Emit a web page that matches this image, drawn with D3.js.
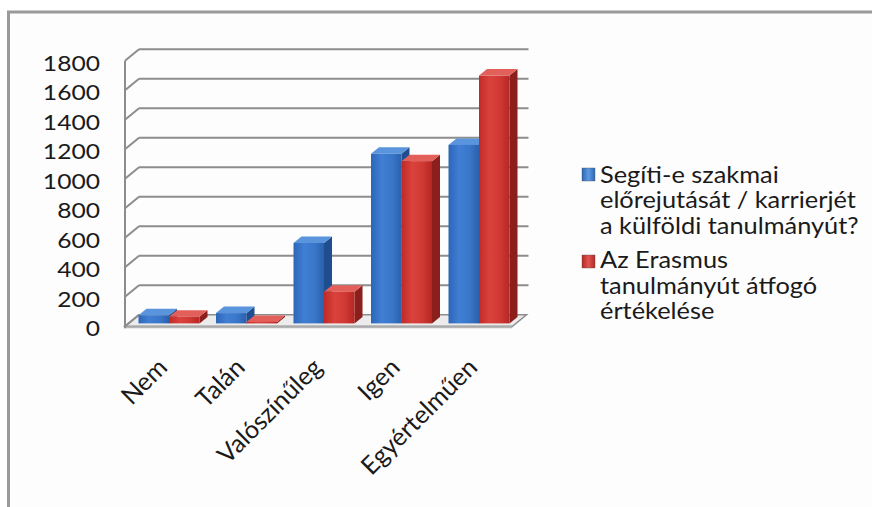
<!DOCTYPE html>
<html><head><meta charset="utf-8">
<script src="https://cdn.jsdelivr.net/npm/d3@7"></script>
<style>html,body{margin:0;padding:0;background:#fff;}svg{display:block;}</style>
</head><body>
<svg id="chart" width="872" height="507"></svg>
<script>
const categories = ["Nem", "Talán", "Valószínűleg", "Igen", "Egyértelműen"];
const seriesKeys = ["s1", "s2"];
const series1 = [55, 70, 545, 1150, 1210];
const series2 = [45, 10, 215, 1100, 1680];
const yTicks = [0, 200, 400, 600, 800, 1000, 1200, 1400, 1600, 1800];
const legend1 = ["Segíti-e szakmai", "előrejutását / karrierjét", "a külföldi tanulmányút?"];
const legend2 = ["Az Erasmus", "tanulmányút átfogó", "értékelése"];

const svg = d3.select("#chart");
const font = "Lato, 'Open Sans', sans-serif";
const SX = 1.1; // horizontal text stretch seen in the reference

// frame
svg.append("rect").attr("x", 9).attr("y", 13).attr("width", 870).attr("height", 500).attr("fill", "#fdfdfd");
svg.append("path").attr("d", "M8.5,507 V12 H872").attr("fill", "none").attr("stroke", "#9a9a9a").attr("stroke-width", 3);

const defs = svg.append("defs");
function grad(id, stops) {
  const g = defs.append("linearGradient").attr("id", id).attr("x1", "0").attr("x2", "1").attr("y1", "0").attr("y2", "0");
  stops.forEach(([o, c]) => g.append("stop").attr("offset", o).attr("stop-color", c));
}
grad("gBlue", [[0, "#2c66b8"], [0.35, "#407fd4"], [0.7, "#3976c9"], [1, "#2b60ab"]]);
grad("gRed", [[0, "#c02a26"], [0.35, "#da423c"], [0.7, "#d03833"], [1, "#b52723"]]);
grad("gBlueMk", [[0, "#2c66b5"], [0.5, "#5d9ae2"], [1, "#2c66b5"]]);
grad("gRedMk", [[0, "#b52723"], [0.5, "#e0554f"], [1, "#b52723"]]);

const colors = {
  s1: { front: "url(#gBlue)", top: "#5a94dd", side: "#1f4e90" },
  s2: { front: "url(#gRed)", top: "#e3605a", side: "#8c1f1c" }
};

// scales (front plane)
const x = d3.scaleBand().domain(categories).range([125, 512.5]).padding(0);
const xs = d3.scaleBand().domain(seriesKeys).range([10, 71]).padding(0);
const y = d3.scaleLinear().domain([0, 1800]).range([326.3, 60.8]);
const DX = 14, DY = -11.5;           // depth of walls
const fdx = 3.5, fdy = -2.9;         // bars front plane offset
const bdx = 8, bdy = -6.5;           // bar depth

const gridColor = "#8d8d8d";
const g = svg.append("g");

// floor
const x0 = x.range()[0], x1 = x.range()[1];
g.append("path")
  .attr("d", `M${x0},${y(0)} L${x1},${y(0)} L${x1 + DX},${y(0) + DY} L${x0 + DX},${y(0) + DY} Z`)
  .attr("fill", "#ececec").attr("stroke", gridColor).attr("stroke-width", 1.5);
g.append("path")
  .attr("d", `M${x0},${y(0)} L${x1},${y(0)} L${x1},${y(0) + 2} L${x0},${y(0) + 2} Z`)
  .attr("fill", "#b5b5b5");

// back wall gridlines
g.selectAll(".grid").data(yTicks.slice(1)).join("line")
  .attr("x1", x0 + DX).attr("x2", x1 + DX + 2)
  .attr("y1", d => y(d) + DY).attr("y2", d => y(d) + DY)
  .attr("stroke", gridColor).attr("stroke-width", 2);
// left wall diagonals
g.selectAll(".diag").data(yTicks).join("line")
  .attr("x1", x0).attr("x2", x0 + DX)
  .attr("y1", d => y(d)).attr("y2", d => y(d) + DY)
  .attr("stroke", gridColor).attr("stroke-width", 2);
// left wall front edge
g.append("line").attr("x1", x0).attr("x2", x0).attr("y1", y(1800)).attr("y2", y(0) + 2)
  .attr("stroke", gridColor).attr("stroke-width", 2);

// y labels
svg.append("g").selectAll("text").data(yTicks).join("text")
  .attr("transform", d => `translate(100,${y(d) + 1.5}) scale(${SX + 0.02},1)`)
  .attr("text-anchor", "end").attr("dominant-baseline", "central")
  .attr("font-family", font).attr("font-size", 22).attr("fill", "#1a1a1a")
  .text(d => d);

// bars
const data = [];
categories.forEach((c, i) => {
  data.push({ cat: c, key: "s1", v: series1[i] });
  data.push({ cat: c, key: "s2", v: series2[i] });
});
const bars = g.selectAll(".bar").data(data).join("g");
bars.each(function (d) {
  const sel = d3.select(this);
  const l = x(d.cat) + xs(d.key) + fdx;
  const w = xs.bandwidth();
  const r = l + w;
  const t = y(d.v) + fdy;
  const b = y(0) + fdy;
  const col = colors[d.key];
  sel.append("path").attr("d", `M${r},${t} L${r + bdx},${t + bdy} L${r + bdx},${b + bdy} L${r},${b} Z`).attr("fill", col.side);
  sel.append("path").attr("d", `M${l},${t} L${r},${t} L${r + bdx},${t + bdy} L${l + bdx},${t + bdy} Z`).attr("fill", col.top);
  sel.append("rect").attr("x", l).attr("y", t).attr("width", w).attr("height", Math.max(0, b - t)).attr("fill", col.front);
});

// category labels
svg.append("g").selectAll("text").data(categories).join("text")
  .attr("transform", d => `translate(${x(d) + x.bandwidth() / 2 + 5},${369}) rotate(-45)`)
  .attr("text-anchor", "end")
  .attr("font-family", font).attr("font-size", 25).attr("fill", "#1a1a1a")
  .text(d => d);

// legend
const leg = svg.append("g");
function legendEntry(lines, gradId, markerY, baseY) {
  leg.append("rect").attr("x", 582).attr("y", markerY).attr("width", 13).attr("height", 13)
    .attr("fill", `url(#${gradId})`).attr("stroke", "#555").attr("stroke-width", 0.4);
  leg.append("g").selectAll("text").data(lines).join("text")
    .attr("transform", (d, i) => `translate(600,${baseY + i * 25.5}) scale(${SX - 0.02},1)`)
    .attr("font-family", font).attr("font-size", 23.5).attr("fill", "#1a1a1a")
    .text(d => d);
}
legendEntry(legend1, "gBlueMk", 168, 182.7);
legendEntry(legend2, "gRedMk", 255, 268.3);
</script>
</body></html>
